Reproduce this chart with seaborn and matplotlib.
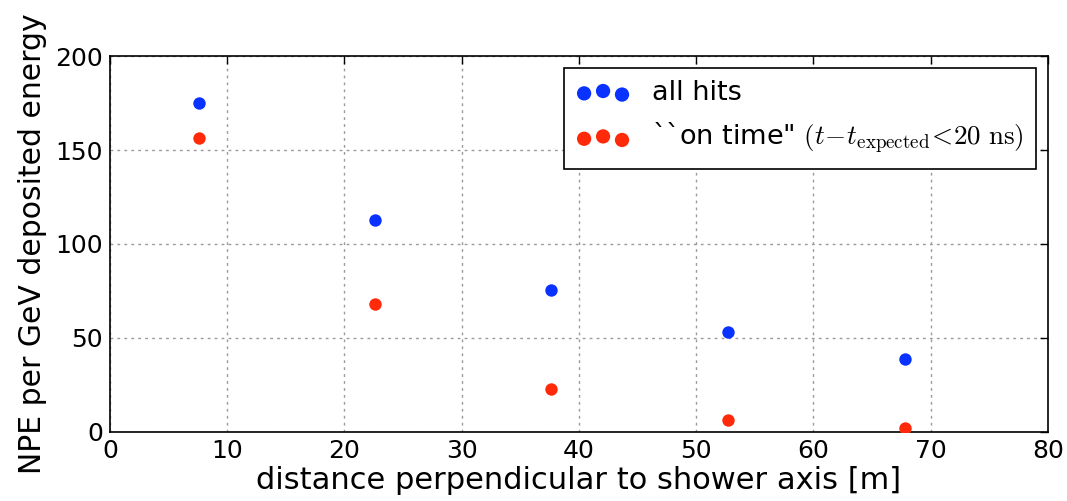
import matplotlib
matplotlib.use("Agg")
import matplotlib.pyplot as plt
import seaborn as sns
import pandas as pd

# Light yield vs. distance from the shower axis
distance_m = [7.6, 22.6, 37.6, 52.7, 67.8]
npe_all_hits = [175.0, 113.0, 75.5, 53.0, 38.7]
npe_on_time = [156.3, 68.0, 22.7, 6.4, 2.3]

label_all = "all hits"
label_on_time = r'``on time" $(t\!-\!t_{\rm expected}\!<\!20\ {\rm ns})$'
xlabel = "distance perpendicular to shower axis [m]"
ylabel = "NPE per GeV deposited energy"
xticks = [0, 10, 20, 30, 40, 50, 60, 70, 80]
yticks = [0, 50, 100, 150, 200]

sns.set_style("white")
plt.rcParams.update({
    "font.family": ["DejaVu Sans"],
    "mathtext.fontset": "cm",
    "text.color": "black",
    "axes.labelcolor": "black",
    "xtick.color": "black",
    "ytick.color": "black",
    "xtick.direction": "in",
    "ytick.direction": "in",
    "xtick.top": True,
    "ytick.right": True,
    "xtick.major.size": 6,
    "ytick.major.size": 6,
    "axes.edgecolor": "black",
    "axes.linewidth": 1.2,
})

df_all = pd.DataFrame({"distance": distance_m, "npe": npe_all_hits})
df_on = pd.DataFrame({"distance": distance_m, "npe": npe_on_time})

fig = plt.figure(figsize=(10.67, 5.01), dpi=100)
ax = fig.add_axes([0.103, 0.138, 0.879, 0.750])

sns.scatterplot(data=df_all, x="distance", y="npe", ax=ax, color="#0a32ff",
                s=80, linewidth=0, label=label_all, legend=False, zorder=3)
sns.scatterplot(data=df_on, x="distance", y="npe", ax=ax, color="#ff2a0a",
                s=80, linewidth=0, label=label_on_time, legend=False, zorder=3)

ax.set_xlim(0, 80)
ax.set_ylim(0, 200)
ax.set_xticks(xticks)
ax.set_yticks(yticks)
ax.tick_params(labelsize=18, width=1, pad=5)
ax.set_xlabel(xlabel, fontsize=22, labelpad=2)
ax.set_ylabel(ylabel, fontsize=21.5, labelpad=6)
ax.grid(True, color="#9a9a9a", linestyle=(0, (2, 3)), linewidth=1)
for sp in ax.spines.values():
    sp.set_visible(True)
    sp.set_color("black")

leg = ax.legend(handles=ax.collections, labels=[label_all, label_on_time],
                scatterpoints=3, scatteryoffsets=[0.375, 0.5, 0.3125],
                loc="upper right", fontsize=19.5, frameon=True, fancybox=False,
                edgecolor="black", handlelength=2.0, borderaxespad=0.45,
                handletextpad=0.8, labelspacing=0.55, borderpad=0.45,
                markerscale=1.15)
leg.get_frame().set_linewidth(1.2)
leg.get_frame().set_alpha(1)

fig.savefig("out.png", dpi=100)
